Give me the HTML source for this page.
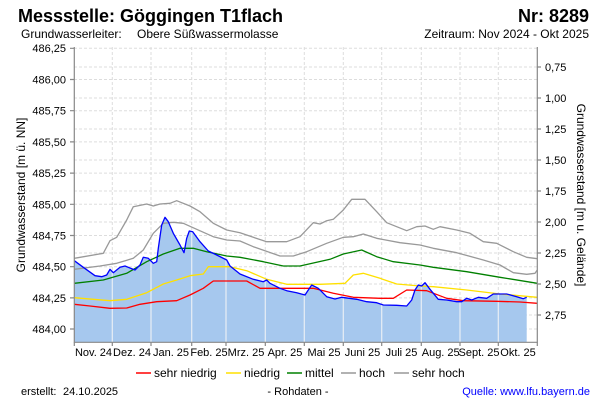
<!DOCTYPE html>
<html><head><meta charset="utf-8"><style>body{margin:0;background:#fff}svg{display:block}text{font-family:"Liberation Sans",Arial,sans-serif}</style></head><body>
<svg width="600" height="400" viewBox="0 0 600 400" xmlns="http://www.w3.org/2000/svg">
<text x="18" y="22" font-size="18" font-weight="bold" fill="#000">Messstelle: Göggingen T1flach</text>
<text x="589" y="22" font-size="18" font-weight="bold" text-anchor="end">Nr: 8289</text>
<text x="21" y="38" font-size="12">Grundwasserleiter:</text>
<text x="137" y="38" font-size="12">Obere Süßwassermolasse</text>
<text x="589" y="38" font-size="12" text-anchor="end">Zeitraum: Nov 2024 - Okt 2025</text>
<g stroke="#ddd" stroke-dasharray="3,2" stroke-width="1">
<line x1="74" y1="48.3" x2="537" y2="48.3"/><line x1="74" y1="79.5" x2="537" y2="79.5"/><line x1="74" y1="110.7" x2="537" y2="110.7"/><line x1="74" y1="141.9" x2="537" y2="141.9"/><line x1="74" y1="173.1" x2="537" y2="173.1"/><line x1="74" y1="204.3" x2="537" y2="204.3"/><line x1="74" y1="235.5" x2="537" y2="235.5"/><line x1="74" y1="266.7" x2="537" y2="266.7"/><line x1="74" y1="297.9" x2="537" y2="297.9"/><line x1="74" y1="329" x2="537" y2="329"/>
<line x1="74" y1="67" x2="537" y2="67"/><line x1="74" y1="98" x2="537" y2="98"/><line x1="74" y1="129" x2="537" y2="129"/><line x1="74" y1="160" x2="537" y2="160"/><line x1="74" y1="191" x2="537" y2="191"/><line x1="74" y1="222" x2="537" y2="222"/><line x1="74" y1="253" x2="537" y2="253"/><line x1="74" y1="284" x2="537" y2="284"/><line x1="74" y1="315" x2="537" y2="315"/>
<line x1="112.3" y1="47" x2="112.3" y2="342"/><line x1="151" y1="47" x2="151" y2="342"/><line x1="191.7" y1="47" x2="191.7" y2="342"/><line x1="226" y1="47" x2="226" y2="342"/><line x1="265.3" y1="47" x2="265.3" y2="342"/><line x1="304.3" y1="47" x2="304.3" y2="342"/><line x1="343.3" y1="47" x2="343.3" y2="342"/><line x1="381.7" y1="47" x2="381.7" y2="342"/><line x1="421.3" y1="47" x2="421.3" y2="342"/><line x1="460" y1="47" x2="460" y2="342"/><line x1="498.3" y1="47" x2="498.3" y2="342"/>
</g>
<polygon fill="#a6c8ee" points="74.3,342 74.3,260.7 83.3,267.3 95,275.7 101.7,276.7 106.7,275 110,269.3 113.3,272.7 120,267.3 125,266 135,270 140,265 143.3,257.3 148.3,258.3 153.3,263.3 156.7,261.7 158.3,248.3 161.7,225 165,217.3 168.3,221.7 173.3,233.3 180,245 184,252.7 186.7,238.3 189.3,231 192.7,231.7 200,241.7 208.3,251 216.7,255 226.7,260 230,266 240,274 253.3,279.3 263.3,281.7 266.7,280 270,283.3 280,288.3 286.7,290.7 296.7,292.7 305,295 308.3,290 311.7,285 318.3,288.3 326.7,296.7 335,299 341.7,297.3 356.7,299.3 366.7,301.7 376.7,302.7 383.3,305 396.7,305.3 406.7,306 411.7,300 415,290 418.3,285 421.7,286 425,282.7 430,289.3 438.3,299.3 446.7,300 456.7,301.7 461.7,301.7 466.7,298.3 471.7,300 478.3,297.3 486.7,298.3 493.3,294 506.7,294 516.7,296.7 523.3,298.7 526.7,297.3 526.7,342"/>
<g stroke="#e8eef5" stroke-width="1.2">
<line x1="112.3" y1="270" x2="112.3" y2="342"/><line x1="151" y1="260" x2="151" y2="342"/><line x1="191.7" y1="232" x2="191.7" y2="342"/><line x1="226" y1="260" x2="226" y2="342"/><line x1="265.3" y1="281" x2="265.3" y2="342"/><line x1="304.3" y1="295" x2="304.3" y2="342"/><line x1="343.3" y1="298" x2="343.3" y2="342"/><line x1="381.7" y1="304" x2="381.7" y2="342"/><line x1="421.3" y1="286" x2="421.3" y2="342"/><line x1="460" y1="302" x2="460" y2="342"/><line x1="498.3" y1="294" x2="498.3" y2="342"/>
</g>
<g fill="none" stroke-width="1.3" stroke-linejoin="round">
<polyline stroke="#999" points="74.3,258.3 103.3,253.3 110,240.7 116.7,237.3 126.7,220 133.3,206.7 146.7,204 153.3,206 160,204 170,203.3 176.7,200.7 190,206 200,211.7 213.3,223.3 226.7,230 240,232.7 253.3,237.3 266.7,241.7 286.7,241.7 300,236.7 313.3,222.7 320,224 326.7,220.7 333.3,219.3 343.3,210 351.7,199.3 365,199.3 376.7,211.7 386.7,222.7 396.7,226.7 406.7,230.7 416.7,226.7 425,226 433.3,229.3 440,226.7 456.7,230 470,233.3 483.3,241.7 496.7,243.3 513.3,251.7 526.7,257.3 537.3,258.7"/>
<polyline stroke="#999" points="74.3,269.3 100,266 116.7,263.3 133.3,258.3 143.3,250 153.3,233.3 163.3,223.3 173.3,222.3 183.3,223.3 196.7,229.3 213.3,236.7 226.7,240 240,241 253.3,246.7 280,256 293.3,256 306.7,251.7 326.7,243.3 343.3,237.3 353.3,236.7 363.3,234 376.7,238.3 400,242.7 420,245 433.3,248.3 456.7,252.7 483.3,260 500,265 513.3,272.7 526.7,274.3 535,273.3 537.3,270"/>
<polyline stroke="#008000" points="74.3,283.3 103.3,280 126.7,273.3 146.7,261.7 163.3,254 180,248.3 193.3,248.3 206.7,251.7 226.7,256 240,257.3 263.3,261.7 283.3,266 300,266 330,259.3 343.3,254 361.7,250 376.7,256.7 393.3,261.7 420,265 433.3,267.3 466.7,271.7 500,277.3 537.3,283.3"/>
<polyline stroke="#ffe000" points="74.3,297.7 93.3,299.3 110,300.7 126.7,299.3 146.7,292.7 163.3,284 176.7,280 190,275.7 203.3,274 208.3,266.7 230,266.7 246.7,270.7 266.7,279.3 286.7,284.3 320,284.3 345,283.3 353.3,275 363.3,273.3 380,278.3 396.7,284 420,286 433.3,286.7 466.7,290 500,294 537.3,297.3"/>
<polyline stroke="#ff0000" points="74.3,304.3 90,306 110,308.3 126.7,308 140,304.3 156.7,301.7 176.7,300.7 190,295 203.3,288.3 213.3,281 246.7,281 260,288.3 313.3,288.3 333.3,293.3 353.3,297.3 380,298.3 393.3,298.3 406.7,290 426.7,290.7 446.7,298.3 463.3,300.7 496.7,301.3 520,302 537.3,303.3"/>
<polyline stroke="#0000ff" points="74.3,260.7 83.3,267.3 95,275.7 101.7,276.7 106.7,275 110,269.3 113.3,272.7 120,267.3 125,266 135,270 140,265 143.3,257.3 148.3,258.3 153.3,263.3 156.7,261.7 158.3,248.3 161.7,225 165,217.3 168.3,221.7 173.3,233.3 180,245 184,252.7 186.7,238.3 189.3,231 192.7,231.7 200,241.7 208.3,251 216.7,255 226.7,260 230,266 240,274 253.3,279.3 263.3,281.7 266.7,280 270,283.3 280,288.3 286.7,290.7 296.7,292.7 305,295 308.3,290 311.7,285 318.3,288.3 326.7,296.7 335,299 341.7,297.3 356.7,299.3 366.7,301.7 376.7,302.7 383.3,305 396.7,305.3 406.7,306 411.7,300 415,290 418.3,285 421.7,286 425,282.7 430,289.3 438.3,299.3 446.7,300 456.7,301.7 461.7,301.7 466.7,298.3 471.7,300 478.3,297.3 486.7,298.3 493.3,294 506.7,294 516.7,296.7 523.3,298.7 526.7,297.3"/>
</g>
<g stroke="#888" stroke-width="1.2" fill="none">
<line x1="74.3" y1="47" x2="74.3" y2="342.5"/><line x1="537.3" y1="47" x2="537.3" y2="342.5"/><line x1="74.3" y1="342.3" x2="537.3" y2="342.3"/>
<path d="M70,48.3h4M70,79.5h4M70,110.7h4M70,141.9h4M70,173.1h4M70,204.3h4M70,235.5h4M70,266.7h4M70,297.9h4M70,329h4"/>
<path d="M537,67h4M537,98h4M537,129h4M537,160h4M537,191h4M537,222h4M537,253h4M537,284h4M537,315h4"/>
<path d="M74.3,342v4M112.3,342v4M151,342v4M191.7,342v4M226,342v4M265.3,342v4M304.3,342v4M343.3,342v4M381.7,342v4M421.3,342v4M460,342v4M498.3,342v4M537.3,342v4"/>
</g>
<g font-size="11" text-anchor="end" fill="#000">
<text x="66" y="52">486,25</text><text x="66" y="83.5">486,00</text><text x="66" y="114.7">485,75</text><text x="66" y="145.9">485,50</text><text x="66" y="177.1">485,25</text><text x="66" y="208.3">485,00</text><text x="66" y="239.5">484,75</text><text x="66" y="270.7">484,50</text><text x="66" y="301.9">484,25</text><text x="66" y="333">484,00</text>
</g>
<g font-size="11" fill="#000">
<text x="545" y="71">0,75</text><text x="545" y="102">1,00</text><text x="545" y="133">1,25</text><text x="545" y="164">1,50</text><text x="545" y="195">1,75</text><text x="545" y="226">2,00</text><text x="545" y="257">2,25</text><text x="545" y="288">2,50</text><text x="545" y="319">2,75</text>
</g>
<g font-size="11" text-anchor="middle">
<text x="93.5" y="356">Nov. 24</text><text x="132" y="356">Dez. 24</text><text x="171" y="356">Jan. 25</text><text x="209" y="356">Feb. 25</text><text x="246" y="356">Mrz. 25</text><text x="285" y="356">Apr. 25</text><text x="324" y="356">Mai 25</text><text x="362.5" y="356">Juni 25</text><text x="401.5" y="356">Juli 25</text><text x="440.7" y="356">Aug. 25</text><text x="479" y="356">Sept. 25</text><text x="518" y="356">Okt. 25</text>
</g>
<text transform="translate(25,195) rotate(-90)" font-size="12" text-anchor="middle">Grundwasserstand [m ü. NN]</text>
<text transform="translate(577,195) rotate(90)" font-size="12" text-anchor="middle">Grundwasserstand [m u. Gelände]</text>
<g stroke-width="1.5">
<line x1="136" y1="373" x2="151" y2="373" stroke="#ff0000"/><line x1="226" y1="373" x2="241" y2="373" stroke="#ffe000"/><line x1="287" y1="373" x2="302" y2="373" stroke="#008000"/><line x1="341" y1="373" x2="356" y2="373" stroke="#999"/><line x1="394" y1="373" x2="409" y2="373" stroke="#999"/>
</g>
<g font-size="12">
<text x="154" y="377">sehr niedrig</text><text x="244" y="377">niedrig</text><text x="305" y="377">mittel</text><text x="359" y="377">hoch</text><text x="412" y="377">sehr hoch</text>
</g>
<g font-size="11">
<text x="21" y="395">erstellt:</text><text x="63" y="395">24.10.2025</text>
<text x="298" y="395" text-anchor="middle">- Rohdaten -</text>
<text x="590" y="395" text-anchor="end" fill="#0000ff">Quelle: www.lfu.bayern.de</text>
</g>
</svg>
</body></html>
